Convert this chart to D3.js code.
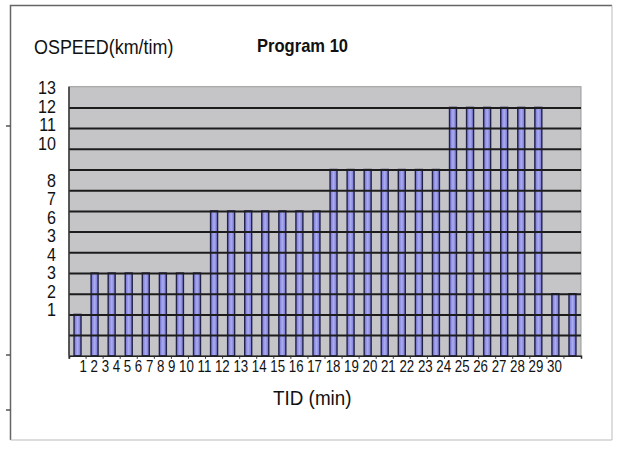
<!DOCTYPE html>
<html>
<head>
<meta charset="utf-8">
<script src="https://cdn.jsdelivr.net/npm/d3@7"></script>
<style>
  html, body { margin: 0; padding: 0; background: #fff; }
  svg { display: block; font-family: "Liberation Sans", Arial, sans-serif; }
</style>
</head>
<body>
<svg id="chart" width="620" height="450"></svg>
<script>
// Minutes of the program (x categories)
const minutes = d3.range(1, 31).map(String);
// Speed level for each minute, in grid steps
const speeds = [2, 4, 4, 4, 4, 4, 4, 4, 7, 7, 7, 7, 7, 7, 7, 9, 9, 9, 9, 9, 9, 9, 12, 12, 12, 12, 12, 12, 3, 3];
// Text printed beside the vertical axis, top to bottom
const yTickLabels = ["13", "12", "11", "10", "", "8", "7", "6", "3", "4", "3", "2", "1"];

const svg = d3.select("#chart");

// Outer frame
svg.append("path")
  .attr("d", "M10.5,440 L10.5,5.5 L612,5.5")
  .attr("fill", "none").attr("stroke", "#666").attr("stroke-width", 1.5);
svg.append("path")
  .attr("d", "M612,5.5 L612,440 L10.5,440")
  .attr("fill", "none").attr("stroke", "#bbb").attr("stroke-width", 1);
// Small marks on the frame's left edge
svg.append("g").selectAll("line")
  .data([126, 355, 410])
  .join("line")
  .attr("x1", 6).attr("x2", 10.5)
  .attr("y1", d => d).attr("y2", d => d)
  .attr("stroke", "#555").attr("stroke-width", 1.5);

const plot = { left: 69, right: 581, top: 86.7, bottom: 355.8 };

const x = d3.scaleBand().domain(minutes).range([plot.left, plot.right]);
const y = d3.scaleLinear().domain([0, 13]).range([plot.bottom, plot.top]);

// Plot background
svg.append("rect")
  .attr("x", plot.left).attr("y", plot.top)
  .attr("width", plot.right - plot.left).attr("height", plot.bottom - plot.top)
  .attr("fill", "#c5c5c8").attr("stroke", "#9a9a9a").attr("stroke-width", 1);

// Bar shading
const defs = svg.append("defs");
const grad = defs.append("linearGradient").attr("id", "barFill")
  .attr("x1", "0%").attr("x2", "100%").attr("y1", "0%").attr("y2", "0%");
grad.append("stop").attr("offset", "0%").attr("stop-color", "#7070d2");
grad.append("stop").attr("offset", "50%").attr("stop-color", "#acacf0");
grad.append("stop").attr("offset", "100%").attr("stop-color", "#7070d2");

const barW = 7;
svg.append("g").selectAll("rect")
  .data(speeds)
  .join("rect")
  .attr("x", (d, i) => x(minutes[i]) + x.bandwidth() / 2 - barW / 2)
  .attr("y", d => y(d))
  .attr("width", barW)
  .attr("height", d => y(0) - y(d))
  .attr("fill", "url(#barFill)")
  .attr("stroke", "#23234a")
  .attr("stroke-width", 1.4);

// Horizontal gridlines drawn across the bars
const grid = svg.append("g")
  .attr("transform", `translate(${plot.left},0)`)
  .call(d3.axisLeft(y).tickValues(d3.range(1, 13)).tickSize(-(plot.right - plot.left)).tickFormat(""));
grid.select(".domain").remove();
grid.selectAll(".tick line").attr("stroke", "#1c1c1c").attr("stroke-width", 2);

// Baseline with small category ticks
const xAxis = svg.append("g")
  .attr("transform", `translate(0,${plot.bottom})`)
  .call(d3.axisBottom(x).tickSize(3).tickFormat(""));
xAxis.select(".domain").attr("stroke", "#222").attr("stroke-width", 1.5);
xAxis.selectAll(".tick line").attr("stroke", "#333")
  .attr("transform", `translate(${-x.bandwidth() / 2},0)`);

// Left edge of plot
svg.append("line")
  .attr("x1", plot.left).attr("x2", plot.left)
  .attr("y1", plot.top).attr("y2", plot.bottom)
  .attr("stroke", "#333").attr("stroke-width", 1.5);

// Vertical axis labels
const yLab = d3.scalePoint().domain(d3.range(yTickLabels.length)).range([88, 310]);
const yAxis = svg.append("g")
  .attr("transform", "translate(56,0)")
  .call(d3.axisLeft(yLab).tickSize(0).tickPadding(0).tickFormat(i => yTickLabels[i]));
yAxis.select(".domain").remove();
yAxis.selectAll("text")
  .attr("font-size", 17.5).attr("fill", "#111")
  .attr("font-family", "'Liberation Sans', Arial, sans-serif")
  .attr("transform", "scale(0.92,1)");

// Minute labels, set as one run of text
const xText = svg.append("text")
  .attr("transform", "translate(79.5,371.5) scale(0.83,1)")
  .attr("font-size", 16).attr("fill", "#111");
xText.selectAll("tspan")
  .data(minutes)
  .join("tspan")
  .text((d, i) => (i < minutes.length - 1 ? d + " " : d));

// Titles
svg.append("text")
  .attr("transform", "translate(34,54) scale(0.92,1)")
  .attr("font-size", 19.5).attr("fill", "#111")
  .text("OSPEED(km/tim)");
svg.append("text")
  .attr("transform", "translate(257,52) scale(0.92,1)")
  .attr("font-size", 18).attr("font-weight", "bold").attr("fill", "#111")
  .text("Program 10");
svg.append("text")
  .attr("transform", "translate(273,405) scale(0.92,1)")
  .attr("font-size", 20.5).attr("fill", "#111")
  .text("TID (min)");
</script>
</body>
</html>
